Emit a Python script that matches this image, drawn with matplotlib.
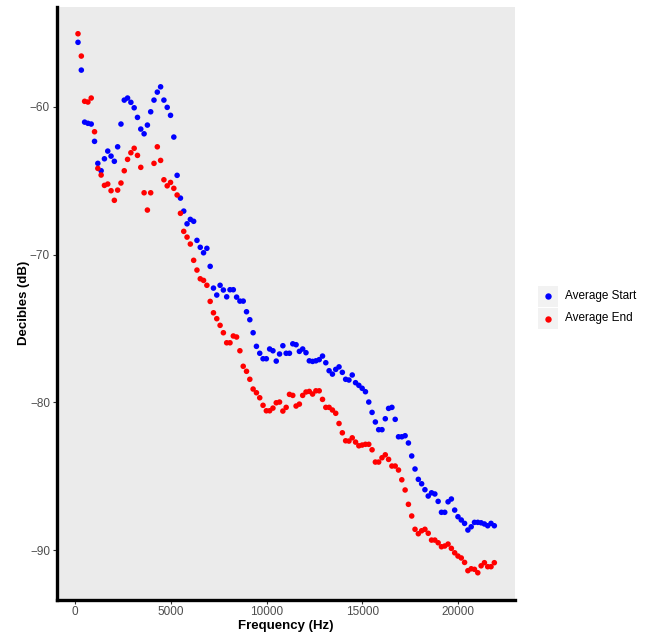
import numpy as np
import matplotlib
matplotlib.use("Agg")
import matplotlib.pyplot as plt
from matplotlib.patches import Rectangle
from matplotlib.lines import Line2D

plt.rcParams['font.family'] = ['Liberation Sans', 'DejaVu Sans']

# frequency bins (Hz), spectrum averaged over 256-point FFT bins
freq = [172, 345, 517, 689, 861, 1034, 1206, 1378, 1550, 1723,
        1895, 2067, 2239, 2412, 2584, 2756, 2929, 3101, 3273, 3445,
        3618, 3790, 3962, 4134, 4307, 4479, 4651, 4823, 4996, 5168,
        5340, 5513, 5685, 5857, 6029, 6202, 6374, 6546, 6718, 6891,
        7063, 7235, 7407, 7580, 7752, 7924, 8097, 8269, 8441, 8613,
        8786, 8958, 9130, 9302, 9475, 9647, 9819, 9991, 10164, 10336,
        10508, 10680, 10853, 11025, 11197, 11370, 11542, 11714, 11886, 12059,
        12231, 12403, 12575, 12748, 12920, 13092, 13264, 13437, 13609, 13781,
        13954, 14126, 14298, 14470, 14643, 14815, 14987, 15159, 15332, 15504,
        15676, 15848, 16021, 16193, 16365, 16538, 16710, 16882, 17054, 17227,
        17399, 17571, 17743, 17916, 18088, 18260, 18432, 18605, 18777, 18949,
        19122, 19294, 19466, 19638, 19811, 19983, 20155, 20327, 20500, 20672,
        20844, 21016, 21189, 21361, 21533, 21706, 21878]

avg_start = [-55.64, -57.52, -61.04, -61.12, -61.17, -62.34, -63.83, -64.33, -63.52, -63.00,
             -63.34, -63.69, -62.71, -61.17, -59.55, -59.41, -59.70, -60.07, -60.72, -61.51,
             -61.83, -61.24, -60.34, -59.55, -59.01, -58.65, -59.55, -60.04, -60.58, -62.05,
             -64.64, -66.18, -67.06, -67.92, -67.62, -67.75, -69.04, -69.51, -69.88, -69.58,
             -70.80, -72.27, -72.74, -72.08, -72.40, -72.86, -72.38, -72.38, -72.88, -73.15,
             -73.15, -73.87, -74.41, -75.29, -76.21, -76.68, -77.05, -77.05, -76.39, -76.51,
             -77.21, -76.73, -76.17, -76.68, -76.68, -76.04, -76.10, -76.55, -76.39, -76.64,
             -77.19, -77.23, -77.19, -77.11, -76.87, -77.32, -77.86, -78.09, -77.77, -77.60,
             -77.97, -78.44, -78.49, -78.15, -78.67, -78.85, -79.05, -79.28, -79.98, -80.68,
             -81.33, -81.85, -81.85, -81.11, -80.41, -80.34, -81.15, -82.33, -82.33, -82.26,
             -82.75, -83.63, -84.51, -85.21, -85.51, -85.91, -86.34, -86.12, -86.20, -86.70,
             -87.44, -87.44, -86.73, -86.54, -87.29, -87.74, -87.96, -88.19, -88.64, -88.42,
             -88.12, -88.12, -88.15, -88.23, -88.35, -88.19, -88.35]

avg_end = [-55.06, -56.57, -59.63, -59.68, -59.41, -61.69, -64.17, -64.62, -65.32, -65.23,
           -65.68, -66.33, -65.64, -65.16, -64.33, -63.56, -63.11, -62.81, -63.29, -64.10,
           -65.82, -66.99, -65.82, -63.83, -62.71, -63.63, -64.94, -65.35, -65.12, -65.52,
           -65.97, -67.21, -68.43, -68.82, -69.29, -70.39, -71.05, -71.64, -71.75, -72.08,
           -73.17, -73.94, -74.34, -74.79, -75.29, -75.97, -75.97, -75.51, -75.58, -76.51,
           -77.56, -77.90, -78.44, -79.10, -79.35, -79.69, -80.20, -80.57, -80.57, -80.39,
           -80.03, -79.98, -80.59, -80.34, -79.46, -79.53, -80.25, -80.12, -79.53, -79.30,
           -79.26, -79.44, -79.22, -79.22, -79.80, -80.34, -80.34, -80.52, -80.74, -81.43,
           -82.06, -82.60, -82.62, -82.40, -82.69, -82.94, -82.89, -82.84, -82.84, -83.21,
           -84.04, -84.04, -83.75, -83.55, -83.86, -84.31, -84.31, -84.58, -85.24, -85.93,
           -86.90, -87.69, -88.59, -88.89, -88.69, -88.59, -88.86, -89.32, -89.32, -89.50,
           -89.77, -89.72, -89.59, -89.88, -90.18, -90.40, -90.53, -90.83, -91.39, -91.26,
           -91.30, -91.53, -91.06, -90.85, -91.12, -91.12, -90.85]

series_names = ['Average Start', 'Average End']
series_colors = ['#0000FF', '#FF0000']

fig = plt.figure(figsize=(6.46, 6.32), dpi=100)
ax = fig.add_axes([57/646, 1 - 599.5/632, (515-57)/646, 592.5/632])
ax.set_facecolor('#EBEBEB')

for vals, name, col in zip([avg_start, avg_end], series_names, series_colors):
    ax.scatter(freq, vals, s=16, color=col, edgecolors='none', label=name, zorder=3)

ax.set_xlim(-923, 22956)
ax.set_ylim(-93.34, -53.25)
ax.set_xticks([0, 5000, 10000, 15000, 20000])
ax.set_yticks([-90, -80, -70, -60])
ax.set_xticklabels(['0', '5000', '10000', '15000', '20000'])
ax.set_yticklabels(['\u221290', '\u221280', '\u221270', '\u221260'])

for s in ['top', 'right']:
    ax.spines[s].set_visible(False)
for s in ['left', 'bottom']:
    ax.spines[s].set_linewidth(2.4)
    ax.spines[s].set_color('black')

ax.tick_params(axis='both', length=3, width=0.8, color='#333333',
               labelsize=8.5, labelcolor='#4D4D4D', pad=2)

ax.set_xlabel('Frequency (Hz)', fontsize=9.5, fontweight='bold', labelpad=1)
ax.set_ylabel('Decibles (dB)', fontsize=9.5, fontweight='bold', labelpad=0)

# legend with ggplot style grey key boxes
key_y = [296, 318.5]
for y, name, col in zip(key_y, series_names, series_colors):
    fig.patches.append(Rectangle(((537.5)/646, 1 - (y + 10.5)/632), 20/646, 21/632,
                                 transform=fig.transFigure, facecolor='#F2F2F2',
                                 edgecolor='none', figure=fig))
    fig.add_artist(Line2D([547.5/646], [1 - y/632], marker='o', markersize=4.6,
                          color=col, markeredgewidth=0, linestyle='none',
                          transform=fig.transFigure))
    fig.text(565/646, 1 - y/632, name, fontsize=8.5, color='black',
             va='center', ha='left')

fig.savefig('out.png', dpi=100)
